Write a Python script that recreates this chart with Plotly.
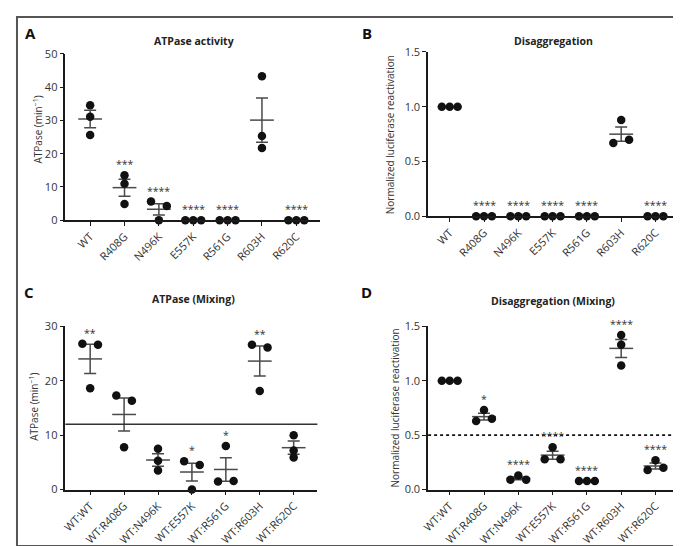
import plotly.graph_objects as go
import numpy as np

W, H = 681, 546

# ---------------- data ----------------
cats_single = ["WT", "R408G", "N496K", "E557K", "R561G", "R603H", "R620C"]
cats_mix = ["WT:WT", "WT:R408G", "WT:N496K", "WT:E557K", "WT:R561G", "WT:R603H", "WT:R620C"]

a_values = [[34.6, 31.1, 25.6], [13.5, 11.0, 4.9], [5.6, 0.0, 4.3], [0, 0, 0],
            [0, 0, 0], [43.3, 25.3, 21.7], [0, 0, 0]]
a_sig = ["", "***", "****", "****", "****", "", "****"]

b_values = [[1, 1, 1], [0, 0, 0], [0, 0, 0], [0, 0, 0], [0, 0, 0],
            [0.67, 0.88, 0.70], [0, 0, 0]]
b_sig = ["", "****", "****", "****", "****", "", "****"]

c_values = [[26.8, 18.6, 26.6], [17.3, 7.8, 16.3], [7.5, 5.3, 3.5], [5.2, 0.0, 4.5],
            [1.5, 8.0, 1.6], [26.6, 18.1, 26.1], [10.0, 7.2, 5.9]]
c_sig = ["**", "", "", "*", "*", "**", ""]
c_threshold = 12

d_values = [[1, 1, 1], [0.63, 0.73, 0.65], [0.09, 0.13, 0.09], [0.28, 0.39, 0.28],
            [0.08, 0.08, 0.08], [1.42, 1.33, 1.14], [0.18, 0.27, 0.20]]
d_sig = ["", "*", "****", "****", "****", "****", "****"]
d_threshold = 0.5

# jitter pattern (-1 left, 0 centre, +1 right) used to separate overlapping dots
a_jitter = [[0, 0, 0], [0, 0, 0], [-1, 0, 1], [-1, 0, 1], [-1, 0, 1], [0, 0, 0], [-1, 0, 1]]
b_jitter = [[-1, 0, 1]] * 7
c_jitter = [[-1, 0, 1], [-1, 0, 1], [0, 0, 0], [-1, 0, 1], [-1, 0, 1], [-1, 0, 1], [0, 0, 0]]
d_jitter = [[-1, 0, 1], [-1, 0, 1], [-1, 0, 1], [-1, 0, 1], [-1, 0, 1], [0, 0, 0], [-1, 0, 1]]

# ---------------- styling ----------------
FONT = "Open Sans"
AXC = "#1a1a1a"
ERRC = "#4a4a4a"
JIT = 0.23


def px(p):
    return p / W


def py(p):
    return 1 - p / H


fig = go.Figure()

panels = [
    dict(n="", vals=a_values, jit=a_jitter, sig=a_sig, cats=cats_single,
         xd=(50, 308), yd=(210, 39), xr=(-0.72, 6.7), yr=(0, 50), dt=10),
    dict(n="2", vals=b_values, jit=b_jitter, sig=b_sig, cats=cats_single,
         xd=(417, 670), yd=(206, 37), xr=(-0.63, 6.66), yr=(0, 1.5), dt=0.5),
    dict(n="3", vals=c_values, jit=c_jitter, sig=c_sig, cats=cats_mix,
         xd=(50, 305), yd=(487, 319), xr=(-0.73, 6.7), yr=(0, 30), dt=10),
    dict(n="4", vals=d_values, jit=d_jitter, sig=d_sig, cats=cats_mix,
         xd=(417, 670), yd=(487, 319), xr=(-0.63, 6.66), yr=(0, 1.5), dt=0.5),
]

layout = {}
annotations = []
for p in panels:
    n = p["n"]
    xa, ya = "x" + n, "y" + n
    means, sems, xs_m = [], [], []
    dx, dy = [], []
    for i, grp in enumerate(p["vals"]):
        arr = np.array(grp, dtype=float)
        means.append(arr.mean())
        sems.append(arr.std(ddof=1) / np.sqrt(len(arr)))
        xs_m.append(i)
        for v, j in zip(grp, p["jit"][i]):
            dx.append(i + j * JIT)
            dy.append(v)
        if p["sig"][i]:
            annotations.append(dict(x=i, y=max(grp), xref=xa, yref=ya, text=p["sig"][i],
                                    showarrow=False, yanchor="middle", yshift=11,
                                    font=dict(family=FONT, size=10.5, color="#333")))
    # error bars (SEM) + mean line
    fig.add_trace(go.Scatter(
        x=xs_m, y=means, xaxis=xa, yaxis=ya, mode="markers", cliponaxis=False,
        marker=dict(symbol="line-ew", size=17, line=dict(width=1.5, color=ERRC)),
        error_y=dict(type="data", array=sems, visible=True, width=6,
                     thickness=1.5, color=ERRC),
        showlegend=False, hoverinfo="skip"))
    fig.add_trace(go.Scatter(
        x=dx, y=dy, xaxis=xa, yaxis=ya, mode="markers", cliponaxis=False,
        marker=dict(size=8.5, color="#111"), showlegend=False))
    xkey = "xaxis" + n
    ykey = "yaxis" + n
    layout[xkey] = dict(domain=[px(p["xd"][0]), px(p["xd"][1])], range=list(p["xr"]),
                        anchor=ya, showline=True, linecolor=AXC, linewidth=1.5,
                        ticks="outside", ticklen=4, tickwidth=1.2, tickcolor=AXC,
                        tickvals=list(range(7)), ticktext=p["cats"], tickangle=-45,
                        tickfont=dict(family=FONT, size=11, color="#333"),
                        showgrid=False, zeroline=False, fixedrange=True)
    layout[ykey] = dict(domain=[py(p["yd"][0]), py(p["yd"][1])], range=list(p["yr"]),
                        anchor=xa, showline=True, linecolor=AXC, linewidth=1.5,
                        ticks="outside", ticklen=4, tickwidth=1.2, tickcolor=AXC,
                        dtick=p["dt"], tickformat=".1f" if p["dt"] < 1 else "d",
                        tickfont=dict(family=FONT, size=11, color="#333"),
                        showgrid=False, zeroline=False, fixedrange=True)

# threshold lines
shapes = [
    dict(type="line", xref="x3 domain", yref="y3", x0=0, x1=1, y0=c_threshold, y1=c_threshold,
         line=dict(color="#333", width=1.5)),
    dict(type="line", xref="x4 domain", yref="y4", x0=0, x1=1, y0=d_threshold, y1=d_threshold,
         line=dict(color="#111", width=1.8, dash="dot")),
    dict(type="rect", xref="paper", yref="paper", x0=px(1), x1=px(W - 1), y0=py(H - 1), y1=py(1),
         line=dict(color="#555", width=2)),
]

# titles, letters and axis titles
titles = [("ATPase activity", 180, 26), ("Disaggregation", 544, 26),
          ("ATPase (Mixing)", 180, 291), ("Disaggregation (Mixing)", 543, 293)]
for t, x, y in titles:
    annotations.append(dict(x=px(x), y=py(y), xref="paper", yref="paper", text="<b>" + t + "</b>",
                            showarrow=False, xanchor="center", yanchor="middle",
                            font=dict(family=FONT, size=10.5, color="#222")))
letters = [("A", 15, 17), ("B", 355, 17), ("C", 13, 284), ("D", 355, 284)]
for t, x, y in letters:
    annotations.append(dict(x=px(x), y=py(y), xref="paper", yref="paper", text="<b>" + t + "</b>",
                            showarrow=False, xanchor="center", yanchor="middle",
                            font=dict(family=FONT, size=15, color="#111")))
ytitles = [("ATPase (min<sup>−1</sup>)", 22, 117), ("Normalized luciferase reactivation", 378, 122),
           ("ATPase (min<sup>−1</sup>)", 18, 402), ("Normalized luciferase reactivation", 383, 403)]
for t, x, y in ytitles:
    annotations.append(dict(x=px(x), y=py(y), xref="paper", yref="paper", text=t, textangle=-90,
                            showarrow=False, xanchor="center", yanchor="middle",
                            font=dict(family=FONT, size=10, color="#333")))

fig.update_layout(width=W, height=H, margin=dict(l=0, r=0, t=0, b=0),
                  paper_bgcolor="white", plot_bgcolor="white",
                  annotations=annotations, shapes=shapes, **layout)

fig.write_html("out.html")
